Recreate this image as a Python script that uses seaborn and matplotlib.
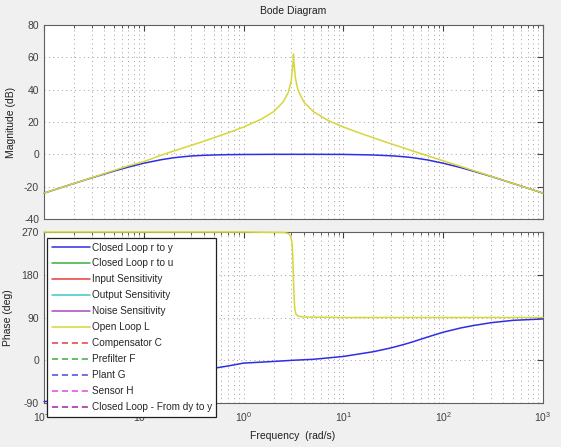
import numpy as np
import pandas as pd
import matplotlib
matplotlib.use("Agg")
import matplotlib.pyplot as plt
from matplotlib.lines import Line2D
from matplotlib.ticker import LogLocator, LogFormatterMathtext, NullFormatter, MultipleLocator
import seaborn as sns

# Open loop L (magnitude / phase)
w_mag_L = [0.01, 0.02, 0.03, 0.05, 0.07, 0.1, 0.15, 0.2, 0.3, 0.4, 0.5, 0.7, 1, 1.5, 2, 2.5, 2.8, 3.0, 3.1,
           3.14, 3.16, 3.18, 3.22, 3.3, 3.5, 4, 5, 7, 10, 15, 20, 30, 40, 50, 70, 100, 150, 200, 300, 500, 1000]
mag_L = [-24, -18, -14.5, -10, -7.1, -4.5, -0.5, 2.1, 5.6, 8.1, 10.2, 13.3, 16.9, 21.7, 26.4, 32.5, 38.2, 45.5, 54,
         58, 62, 58, 54.8, 47.4, 39.8, 32.5, 26.4, 21, 16.9, 12.9, 10.2, 6.5, 4.0, 2.0, -0.9, -4, -7.5, -10, -13.5, -18, -24]
w_ph_L = [0.01, 1, 2.5, 2.8, 2.95, 3.05, 3.1, 3.13, 3.16, 3.2, 3.26, 3.35, 3.5, 4, 10, 1000]
ph_L = [270, 270, 269, 267, 262, 248, 225, 200, 170, 135, 108, 97, 93, 91, 90, 90]

# Closed loop r to y
w_mag_T = [0.01, 0.02, 0.03, 0.05, 0.07, 0.1, 0.15, 0.2, 0.3, 0.4, 0.5, 0.7, 1, 2, 5, 10, 15, 20, 30, 40,
           50, 70, 100, 150, 200, 300, 500, 1000]
mag_T = [-24, -18, -14.6, -10.4, -7.9, -5.5, -3.3, -2.1, -1.0, -0.6, -0.4, -0.2, -0.1, 0, 0, -0.05, -0.25, -0.4,
         -0.9, -1.45, -2.1, -3.5, -5.5, -8.2, -10.4, -13.6, -18, -24]
w_ph_T = [0.01, 0.03, 0.05, 0.07, 0.1, 0.15, 0.2, 0.3, 0.4, 0.5, 0.7, 1, 1.5, 2, 3.16, 5, 10, 20, 30, 40,
          50, 70, 100, 150, 200, 300, 500, 1000]
ph_T = [-87, -79, -72.5, -66, -58, -46.5, -38, -28, -21.5, -17, -12, -6, -4, -2.5, 0, 2, 8, 18, 26, 33,
        39, 49, 59, 68, 73, 79, 84, 87]

legend_labels = ["Closed Loop r to y", "Closed Loop r to u", "Input Sensitivity",
                 "Output Sensitivity", "Noise Sensitivity", "Open Loop L",
                 "Compensator C", "Prefilter F", "Plant G", "Sensor H",
                 "Closed Loop - From dy to y"]
legend_colors = ["#2e2ee6", "#3cae3c", "#e63c3c", "#3cc8c8", "#a848c0", "#d6d63a",
                 "#e63c3c", "#3cae3c", "#4848e6", "#e048e0", "#a020a8"]

blue = "#2e2ee6"
yellow = "#d6d63a"

sns.set_style("white")
plt.rcParams['font.family'] = ['Liberation Sans', 'DejaVu Sans']
plt.rcParams['mathtext.default'] = 'regular'
plt.rcParams['axes.unicode_minus'] = False

fig = plt.figure(figsize=(5.61, 4.47), dpi=100, facecolor="#f0f0f0")
W, H = 561.0, 447.0
ax1 = fig.add_axes([44 / W, 1 - 219 / H, 499 / W, 194 / H])
ax2 = fig.add_axes([44 / W, 1 - 403 / H, 499 / W, 171 / H])

sns.lineplot(x=w_mag_T, y=mag_T, ax=ax1, color=blue, lw=1.1, sort=False)
sns.lineplot(x=w_mag_L, y=mag_L, ax=ax1, color=yellow, lw=1.1, sort=False)
sns.lineplot(x=w_ph_T, y=ph_T, ax=ax2, color=blue, lw=1.1, sort=False)
sns.lineplot(x=w_ph_L, y=ph_L, ax=ax2, color=yellow, lw=1.1, sort=False)
for ax in (ax1, ax2):
    for ln in ax.get_lines():
        ln.set_clip_on(False)
        ln.set_zorder(3)

for ax in (ax1, ax2):
    ax.set_xscale("log")
    ax.set_xlim(0.01, 1000)
    ax.set_facecolor("white")
    ax.xaxis.set_major_locator(LogLocator(base=10, numticks=10))
    ax.xaxis.set_minor_locator(LogLocator(base=10, subs=np.arange(2, 10), numticks=100))
    ax.xaxis.set_minor_formatter(NullFormatter())
    ax.grid(True, which="major", axis="both", color="#a0a0a0", ls=(0, (1, 3.5)), lw=0.7)
    ax.grid(True, which="minor", axis="x", color="#a0a0a0", ls=(0, (1, 3.5)), lw=0.7)
    ax.tick_params(axis="both", which="both", direction="in", top=True, right=True,
                   labelsize=7.5, labelcolor="#404040", color="#404040")
    ax.tick_params(which="major", length=4)
    ax.tick_params(which="minor", length=2)
    for s in ax.spines.values():
        s.set_color("#606060")
        s.set_linewidth(0.8)
    ax.set_xlabel("")
    ax.set_ylabel("")

ax1.set_ylim(-40, 80)
ax1.yaxis.set_major_locator(MultipleLocator(20))
ax1.xaxis.set_major_formatter(NullFormatter())
ax2.set_ylim(-90, 270)
ax2.yaxis.set_major_locator(MultipleLocator(90))
ax2.xaxis.set_major_formatter(LogFormatterMathtext())
ax2.tick_params(axis="x", pad=5)

ax1.set_ylabel("Magnitude (dB)", fontsize=7.5, color="#202020", labelpad=6)
ax2.set_ylabel("Phase (deg)", fontsize=7.5, color="#202020", labelpad=6)
fig.text(293 / W, 1 - 11 / H, "Bode Diagram", ha="center", va="center", fontsize=7.5, color="#202020")
fig.text(293 / W, 1 - 436 / H, "Frequency  (rad/s)", ha="center", va="center", fontsize=7.5, color="#202020")

handles = []
for i, (lab, col) in enumerate(zip(legend_labels, legend_colors)):
    ls = "-" if i < 6 else (0, (4, 2.5))
    handles.append(Line2D([], [], color=col, lw=1.1, ls=ls, label=lab))
leg = fig.legend(handles=handles, loc="upper left", bbox_to_anchor=(47 / W, 1 - 238 / H),
                 fontsize=7.2, frameon=True, fancybox=False, framealpha=1, edgecolor="#202020",
                 handlelength=3.8, handletextpad=0.2, labelspacing=0.6, borderpad=0.45,
                 borderaxespad=0)
leg.get_frame().set_linewidth(0.9)
leg.set_zorder(10)

plt.savefig("out.png", dpi=100, facecolor=fig.get_facecolor())
